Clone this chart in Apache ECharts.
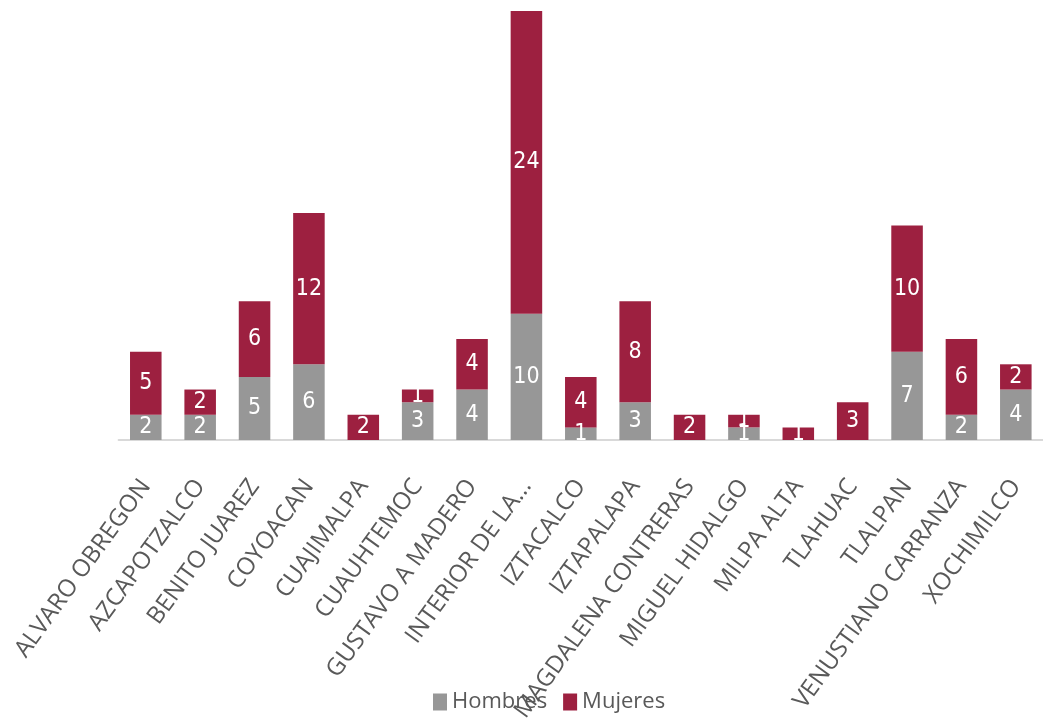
<!DOCTYPE html>
<html><head><meta charset="utf-8">
<script src="https://cdn.jsdelivr.net/npm/echarts@6/dist/echarts.min.js"></script>
<style>html,body{margin:0;padding:0;background:#fff}#c{width:1043px;height:726px}</style>
</head><body><div id="c"></div>
<script>
const categories = ["ALVARO OBREGON","AZCAPOTZALCO","BENITO JUAREZ","COYOACAN","CUAJIMALPA","CUAUHTEMOC","GUSTAVO A MADERO","INTERIOR DE LA...","IZTACALCO","IZTAPALAPA","MAGDALENA CONTRERAS","MIGUEL HIDALGO","MILPA ALTA","TLAHUAC","TLALPAN","VENUSTIANO CARRANZA","XOCHIMILCO"];
const hombres = [2,2,5,6,0,3,4,10,1,3,0,1,0,0,7,2,4];
const mujeres = [5,2,6,12,2,1,4,24,4,8,2,1,1,3,10,6,2];

const chart = echarts.init(document.getElementById('c'), null, {renderer:'canvas'});
const lbl = {
  show: true, position: 'inside', color: '#fff', fontSize: 23,
  fontFamily: '"Liberation Sans Narrow","DejaVu Sans Condensed","Open Sans",sans-serif',
  formatter: p => p.value === 0 ? '' : String(p.value)
};
chart.setOption({
  animation: false,
  grid: {left: 118.6, top: 11, width: 933, height: 429, containLabel: false},
  legend: {
    bottom: 8, left: 428, itemWidth: 14, itemHeight: 17, itemGap: 16, icon: 'rect',
    textStyle: {color: '#595959', fontSize: 22, fontFamily: '"Open Sans",sans-serif'},
    data: ['Hombres','Mujeres']
  },
  xAxis: {
    type: 'category', data: categories,
    axisLine: {lineStyle: {color: '#d9d9d9', width: 2}},
    axisTick: {show: false},
    axisLabel: {rotate: 54, margin: 42, interval: 0, color: '#595959', fontSize: 24, fontFamily: '"Open Sans",sans-serif'}
  },
  yAxis: {type: 'value', min: 0, max: 34, show: false, splitLine: {show: false}},
  series: [
    {name: 'Hombres', type: 'bar', stack: 't', data: hombres, barWidth: '58%', itemStyle: {color: '#979797'}, label: lbl},
    {name: 'Mujeres', type: 'bar', stack: 't', data: mujeres, barWidth: '58%', itemStyle: {color: '#9d2040'}, label: lbl}
  ]
});
</script></body></html>
